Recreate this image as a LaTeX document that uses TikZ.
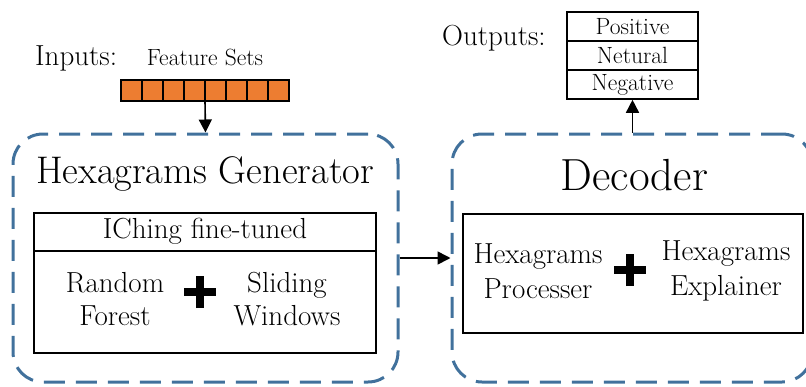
\documentclass[tikz,border=0pt]{standalone}
\usetikzlibrary{arrows.meta,calc}
\definecolor{dashblue}{HTML}{41719C}
\definecolor{featorange}{HTML}{ED7D31}
\tikzset{
  dashbox/.style={draw=dashblue, line width=3pt, rounded corners=30pt,
    dash pattern=on 21pt off 11pt, inner sep=0pt},
  blackbox/.style={draw, line width=1.6pt, inner sep=0pt},
  arr/.style={line width=1.6pt, -{Triangle[length=13pt,width=13pt]}},
  plusbar/.style={line width=8pt},
  cell/.style={draw, line width=1.2pt, fill=featorange},
}
\newcommand{\bigtxt}{\fontsize{38.5}{44}\selectfont}
\newcommand{\midtxt}{\fontsize{29}{34}\selectfont}
\newcommand{\smalltxt}{\fontsize{23.5}{28}\selectfont}

\begin{document}
\begin{tikzpicture}[x=1pt,y=-1pt]
\useasboundingbox (0,0) rectangle (806,386);

% inputs
\node[anchor=base west, inner sep=0, font=\midtxt] (inlbl) at (35,65) {Inputs:};
\node[anchor=base, inner sep=0, font=\smalltxt] (featlbl) at (205,65) {Feature Sets};
\foreach \i in {0,...,7}
  \draw[cell] (121+21*\i,80) rectangle ++(21,21);
\node[inner sep=0, minimum width=168pt, minimum height=21pt] (feat) at (205,90.5) {};

% generator
\node[dashbox, minimum width=385pt, minimum height=248pt] (gen) at (205.5,258) {};
\node[anchor=base, inner sep=0, font=\bigtxt] (gentitle) at (205,183) {Hexagrams Generator};
\node[blackbox, minimum width=342pt, minimum height=38pt] (iching) at (205,232) {};
\node[anchor=base, inner sep=0, font=\midtxt] (ichtxt) at (205,238) {IChing fine-tuned};
\node[blackbox, minimum width=342pt, minimum height=102pt] (genin) at (205,302) {};
\node[align=center, inner sep=0, font=\fontsize{29}{33}\selectfont] (rf) at (115,299) {Random\\Forest};
\node[align=center, inner sep=0, font=\fontsize{29}{33}\selectfont] (sw) at (287,299) {Sliding\\Windows};
\node[inner sep=0] (plusL) at (200,292) {};
\draw[plusbar] ([xshift=-16pt]plusL.center) -- ([xshift=16pt]plusL.center);
\draw[plusbar] ([yshift=-16pt]plusL.center) -- ([yshift=16pt]plusL.center);

% decoder
\node[dashbox, minimum width=360pt, minimum height=248pt] (dec) at (632,258) {};
\node[anchor=base, inner sep=0, font=\fontsize{45}{52}\selectfont] (dectitle) at (634.5,190) {Decoder};
\node[blackbox, minimum width=340pt, minimum height=119pt] (decin) at (633,273.5) {};
\node[align=center, inner sep=0, font=\fontsize{29}{35}\selectfont] (hp) at (538,271) {Hexagrams\\Processer};
\node[align=center, inner sep=0, font=\fontsize{29}{35}\selectfont] (he) at (726,271) {Hexagrams\\Explainer};
\node[inner sep=0] (plusR) at (630,270) {};
\draw[plusbar] ([xshift=-16pt]plusR.center) -- ([xshift=16pt]plusR.center);
\draw[plusbar] ([yshift=-16pt]plusR.center) -- ([yshift=16pt]plusR.center);

% outputs
\node[anchor=base west, inner sep=0, font=\midtxt] (outlbl) at (442,45) {Outputs:};
\node[blackbox, minimum width=131pt, minimum height=29pt, font=\smalltxt] (pos) at (632.5,26.5) {Positive};
\node[blackbox, minimum width=131pt, minimum height=29pt, font=\smalltxt] (neu) at (632.5,55.5) {Netural};
\node[blackbox, minimum width=131pt, minimum height=29pt, font=\smalltxt] (neg) at (632.5,84.5) {Negative};

% connectors
\draw[arr] (feat.south) -- (gen.north);
\draw[arr] (gen.east) -- (dec.west);
\draw[arr] (dec.north -| neg.south) -- (neg.south);
\end{tikzpicture}
\end{document}
